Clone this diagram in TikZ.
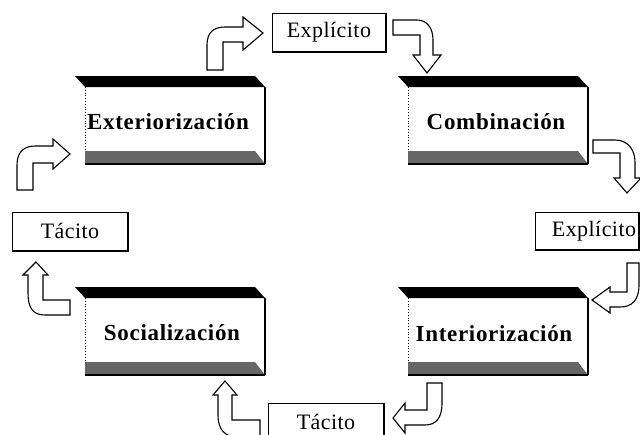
\documentclass[tikz,border=0pt]{standalone}
\usepackage{fontspec}
\setmainfont{Liberation Serif}
\newcommand\ribbon[2]{%
 \pgfmathsetmacro\rL{#1}\pgfmathsetmacro\rR{#1+180}%
 \pgfmathsetmacro\rA{#2}\pgfmathsetmacro\rB{#2+11}\pgfmathsetmacro\rC{#2+75}\pgfmathsetmacro\rD{#2+88}%
 \fill[black] (\rL-10,\rA) -- (\rR-10,\rA) -- (\rR,\rB) -- (\rL,\rB) -- cycle;
 \fill[black!60] (\rL,\rC) -- (\rR-10,\rC) -- (\rR,\rD) -- (\rL,\rD) -- cycle;
 \draw[line width=1.6pt] (\rL,\rD) -- (\rR,\rD);
 \draw[line width=1.1pt] (\rR,\rB) -- (\rR,\rD);
 \draw[dotted, line width=0.8pt] (\rL,\rB) -- (\rL,\rC);
}
\begin{document}
\begin{tikzpicture}[x=1pt,y=-1pt,
  blockarrow/.style={draw=black, fill=white, line width=1.1pt, line join=miter},
  boxlabel/.style={font=\fontsize{23}{26}\selectfont\bfseries\addfontfeature{LetterSpace=3}, inner sep=0pt},
  tag/.style={font=\fontsize{22}{25}\selectfont\addfontfeature{LetterSpace=2}, inner sep=0pt},
  tagbox/.style={draw=black, line width=0.9pt, fill=white, inner sep=0pt},
  shadowline/.style={line width=1.6pt}]
\clip (0,0) rectangle (640,434);
\fill[white] (0,0) rectangle (640,434);

% ribbons (boxes)
\ribbon{85}{76}
\ribbon{408}{76}
\ribbon{85}{287}
\ribbon{408}{287}

\node[boxlabel] (ext)   at (168,122) {Exteriorización};
\node[boxlabel] (comb)  at (496,122) {Combinación};
\node[boxlabel] (soc)   at (172,333) {Socialización};
\node[boxlabel] (inter) at (494,334) {Interiorización};

% tag boxes
\node[tagbox, minimum width=113pt, minimum height=38pt, anchor=north west] (e1) at (272,13) {};
\node[tag] at (e1.center) {Explícito};
\node[tagbox, minimum width=103pt, minimum height=37pt, anchor=north west] (e2) at (535,212) {};
\node[tag] at (594,231) {Explícito};
\node[tagbox, minimum width=115pt, minimum height=38pt, anchor=north west] (t1) at (12,212) {};
\node[tag] at (t1.center) {Tácito};
\node[tagbox, minimum width=115pt, minimum height=38pt, anchor=north west] (t2) at (268,403) {};
\node[tag] at (326,422) {Tácito};
\foreach \n in {e1,e2,t1,t2}
  \draw[shadowline] (\n.south west) -- (\n.south east) -- (\n.north east);

% block arrows
% Exteriorizacion -> Explicito (top)
\draw[blockarrow] (207,70) -- (207,45) .. controls (207,32) and (214,27) .. (225,27) -- (243,27) -- (243,17) -- (263,33) -- (243,50) -- (243,42) -- (223,42) -- (223,70) -- cycle;
% Explicito (top) -> Combinacion
\draw[blockarrow] (393,20) -- (417,20) .. controls (427,20) and (433,28) .. (433,40) -- (433,55) -- (441,55) -- (427,73) -- (413,55) -- (420,55) -- (420,35) -- (393,35) -- cycle;
% Combinacion -> Explicito (right)
\draw[blockarrow] (593,140) -- (615,140) .. controls (628,140) and (635,150) .. (635,162) -- (635,178) -- (641,178) -- (627,193) -- (614,178) -- (620,178) -- (620,153) -- (593,153) -- cycle;
% Explicito (right) -> Interiorizacion
\draw[blockarrow] (627,263) -- (639,263) -- (639,285) .. controls (639,300) and (632,307) .. (620,307) -- (610,307) -- (610,313) -- (592,300) -- (610,287) -- (610,292) -- (627,292) -- cycle;
% Interiorizacion -> Tacito (bottom)
\draw[blockarrow] (427,383) -- (442,383) -- (442,403) .. controls (442,418) and (436,425) .. (425,425) -- (405,425) -- (405,433) -- (393,418) -- (405,403) -- (405,410) -- (427,410) -- cycle;
% Tacito (bottom) -> Socializacion
\draw[blockarrow] (260,420) -- (232,420) -- (232,395) -- (237,395) -- (225,381) -- (213,395) -- (218,395) -- (218,415) .. controls (218,430) and (225,437) .. (238,437) -- (260,437) -- cycle;
% Socializacion -> Tacito (left)
\draw[blockarrow] (70,300) -- (43,300) -- (43,275) -- (48,275) -- (36,262) -- (23,275) -- (28,275) -- (28,293) .. controls (28,308) and (33,315) .. (45,315) -- (70,315) -- cycle;
% Tacito (left) -> Exteriorizacion
\draw[blockarrow] (17,190) -- (17,165) .. controls (17,152) and (24,146) .. (35,146) -- (53,146) -- (53,139) -- (70,154) -- (53,169) -- (53,163) -- (33,163) -- (33,190) -- cycle;
\end{tikzpicture}
\end{document}
